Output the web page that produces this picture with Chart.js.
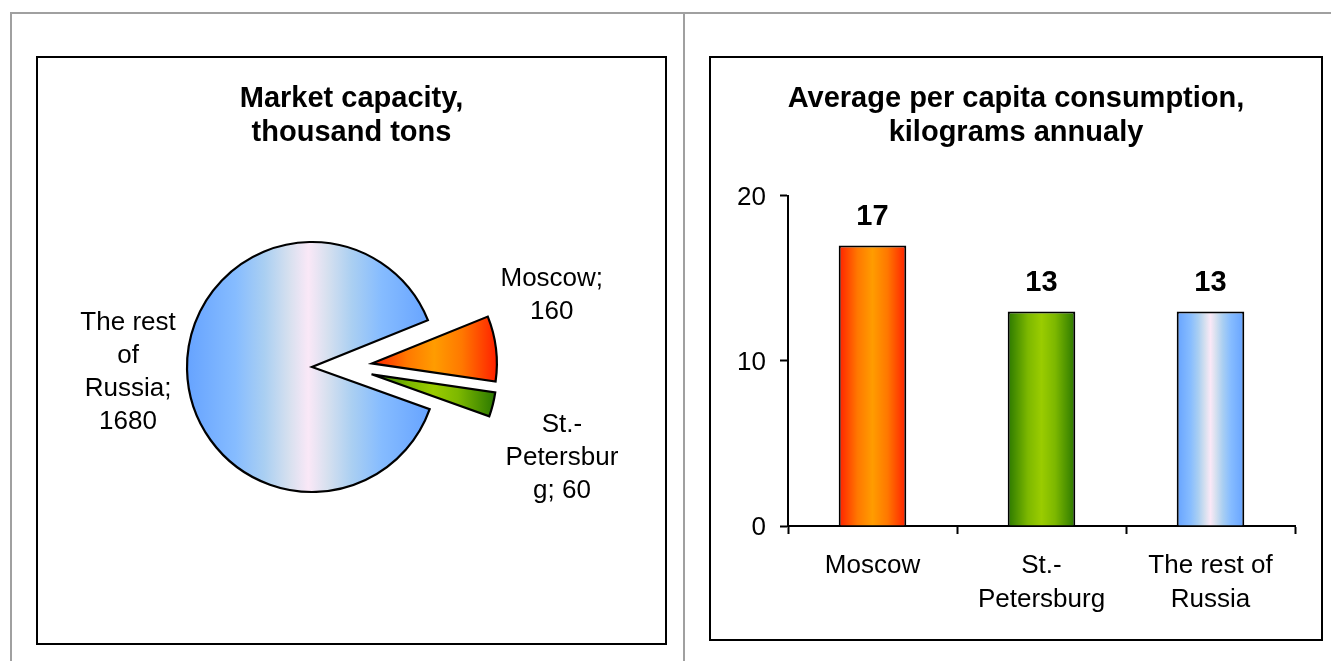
<!DOCTYPE html>
<html>
<head>
<meta charset="utf-8">
<script src="https://cdn.jsdelivr.net/npm/chart.js@4.4.0/dist/chart.umd.min.js"></script>
<style>
  body { margin: 0; background: #fff; width: 1331px; height: 661px; overflow: hidden; position: relative; }
  .rule { position: absolute; background: #a0a0a0; }
  .box { position: absolute; border: 2px solid #000; box-sizing: border-box; }
  .box canvas { display: block; }
</style>
</head>
<body>
<div class="rule" style="left:10px;top:12px;width:1321px;height:2px"></div>
<div class="rule" style="left:10px;top:12px;width:2px;height:649px"></div>
<div class="rule" style="left:683px;top:12px;width:2px;height:649px"></div>
<div class="box" style="left:36px;top:56px;width:631px;height:589px"><canvas id="pie" width="627" height="585" style="width:627px;height:585px"></canvas></div>
<div class="box" style="left:709px;top:56px;width:614px;height:585px"><canvas id="bar" width="610" height="581" style="width:610px;height:581px"></canvas></div>
<script>
// market capacity, thousand tons
const pieCategories = ['Moscow', 'St.-Petersburg', 'The rest of Russia'];
const pieValues = [160, 60, 1680];
// data labels as Excel wrapped them
const pieLabelLines = [['Moscow;', '160'], ['St.-', 'Petersbur', 'g; 60'], ['The rest', 'of', 'Russia;', '1680']];

// average per capita consumption, kg a year
const barCategories = [['Moscow'], ['St.-', 'Petersburg'], ['The rest of', 'Russia']];
const barValues = [17, 13, 13];
const barTicks = [0, 10, 20];

const FONT = '"Liberation Sans", Arial, sans-serif';
Chart.defaults.font.family = FONT;
Chart.defaults.color = '#000';

const red = [[0, '#ff2000'], [0.28, '#ff7800'], [0.5, '#ff9c00'], [0.72, '#ff7800'], [1, '#ff2000']];
const green = [[0, '#2a7800'], [0.3, '#7db800'], [0.5, '#9acc00'], [0.7, '#7db800'], [1, '#2a7800']];
const blue = [[0, '#66a3ff'], [0.2, '#86bcff'], [0.32, '#aacff2'], [0.42, '#d6e0ef'], [0.5, '#fae8f7'],
              [0.58, '#d6e0ef'], [0.68, '#aacff2'], [0.8, '#86bcff'], [1, '#66a3ff']];
const sliceStops = [red, green, blue];
const barStops = [red, green, blue];

const titleFont = { size: 29, weight: 'bold', lineHeight: 1.172 };

function grad(ctx, x0, x1, stops) {
  const g = ctx.createLinearGradient(x0, 0, x1, 0);
  stops.forEach(s => g.addColorStop(s[0], s[1]));
  return g;
}

// pie look
const pieRadius = 125;
const pieRotation = 68;
const pieShiftX = -39.5;
const explode = [60, 60, 0];
const explodeTilt = 0.5;   // Excel pulls slices out flatter than the mid angle
const labelTurn = [-14.4, 9.1, 0];
const labelDist = [193, 207, 184];

function sliceGeom(chart, i) {
  const ca = chart.chartArea;
  const total = pieValues.reduce((a, b) => a + b, 0);
  let start = (pieRotation - 90) * Math.PI / 180;
  for (let j = 0; j < i; j++) start += pieValues[j] / total * 2 * Math.PI;
  const end = start + pieValues[i] / total * 2 * Math.PI;
  const dir = (start + end) / 2 * explodeTilt;
  const cx = (ca.left + ca.right) / 2 + pieShiftX + explode[i] * Math.cos(dir);
  const cy = (ca.top + ca.bottom) / 2 + explode[i] * Math.sin(dir);
  return { cx, cy, start, end };
}

function sliceFill(c) {
  const chart = c.chart;
  if (c.dataIndex === undefined || !chart.chartArea) return sliceStops[2][0][1];
  const g = sliceGeom(chart, c.dataIndex);
  const xs = [g.cx, g.cx + pieRadius * Math.cos(g.start), g.cx + pieRadius * Math.cos(g.end)];
  for (let k = Math.ceil(g.start / Math.PI); k <= Math.floor(g.end / Math.PI); k++) {
    xs.push(g.cx + pieRadius * Math.cos(k * Math.PI));
  }
  return grad(chart.ctx, Math.min(...xs), Math.max(...xs), sliceStops[c.dataIndex]);
}

const pieMove = {
  id: 'pieMove',
  afterUpdate(chart) {
    chart.getDatasetMeta(0).data.forEach((arc, i) => {
      const g = sliceGeom(chart, i);
      arc.x = g.cx;
      arc.y = g.cy;
    });
  }
};

const pieLabels = {
  id: 'pieLabels',
  afterDatasetsDraw(chart) {
    const ctx = chart.ctx;
    ctx.save();
    ctx.font = '26px ' + FONT;
    ctx.fillStyle = '#000';
    ctx.textAlign = 'center';
    ctx.textBaseline = 'middle';
    chart.getDatasetMeta(0).data.forEach((arc, i) => {
      const a = (arc.startAngle + arc.endAngle) / 2 + labelTurn[i] * Math.PI / 180;
      const x = arc.x + Math.cos(a) * labelDist[i];
      const y = arc.y + Math.sin(a) * labelDist[i] + 2;
      const lines = pieLabelLines[i];
      lines.forEach((t, k) => ctx.fillText(t, x, y + (k - (lines.length - 1) / 2) * 33));
    });
    ctx.restore();
  }
};

new Chart(document.getElementById('pie'), {
  type: 'pie',
  data: {
    labels: pieCategories,
    datasets: [{
      data: pieValues,
      backgroundColor: sliceFill,
      borderColor: '#000',
      borderWidth: 2.2,
      borderJoinStyle: 'miter'
    }]
  },
  options: {
    responsive: false,
    animation: false,
    rotation: pieRotation,
    radius: pieRadius,
    layout: { padding: { bottom: 117 } },
    plugins: {
      legend: { display: false },
      tooltip: { enabled: false },
      title: {
        display: true,
        text: ['Market capacity,', 'thousand tons'],
        font: titleFont,
        padding: { top: 24, bottom: 58 }
      }
    }
  },
  plugins: [pieMove, pieLabels]
});

// bar chart
const barPct = 0.4;

function barFill(c) {
  const chart = c.chart;
  const x = chart.scales && chart.scales.x;
  if (c.dataIndex === undefined || !x || !chart.chartArea) return barStops[0][2][1];
  const cx = x.getPixelForValue(c.dataIndex);
  const w = x.width / barValues.length * barPct;
  return grad(chart.ctx, cx - w / 2, cx + w / 2, barStops[c.dataIndex]);
}

const barValueLabels = {
  id: 'barValueLabels',
  afterDatasetsDraw(chart) {
    const ctx = chart.ctx;
    ctx.save();
    ctx.font = 'bold 29px ' + FONT;
    ctx.fillStyle = '#000';
    ctx.textAlign = 'center';
    ctx.textBaseline = 'middle';
    chart.getDatasetMeta(0).data.forEach((bar, i) => {
      ctx.fillText(String(barValues[i]), bar.x, bar.y - 28);
    });
    ctx.restore();
  }
};

new Chart(document.getElementById('bar'), {
  type: 'bar',
  data: {
    labels: barCategories,
    datasets: [{
      data: barValues,
      backgroundColor: barFill,
      borderColor: '#000',
      borderWidth: 2,
      barPercentage: barPct,
      categoryPercentage: 1
    }]
  },
  options: {
    responsive: false,
    animation: false,
    plugins: {
      legend: { display: false },
      tooltip: { enabled: false },
      title: {
        display: true,
        text: ['Average per capita consumption,', 'kilograms annualy'],
        font: titleFont,
        padding: { top: 24, bottom: 46 }
      }
    },
    scales: {
      x: {
        grid: { drawOnChartArea: false, tickLength: 8, tickWidth: 2, tickColor: '#000', offset: true },
        border: { color: '#000', width: 2 },
        ticks: { color: '#000', font: { size: 26, lineHeight: 1.3 }, padding: 15, maxRotation: 0, autoSkip: false },
        afterFit(s) { s.height = 113; }
      },
      y: {
        min: barTicks[0],
        max: barTicks[barTicks.length - 1],
        afterBuildTicks(s) { s.ticks = barTicks.map(v => ({ value: v })); },
        grid: { drawOnChartArea: false, tickLength: 8, tickWidth: 2, tickColor: '#000' },
        border: { color: '#000', width: 2 },
        ticks: { color: '#000', font: { size: 26 }, padding: 14, labelOffset: 2 },
        afterFit(s) { s.width = 77; }
      },
      // empty right gutter so the plot ends where Excel's does while the title stays centred
      gutter: {
        type: 'linear',
        position: 'right',
        grid: { display: false },
        border: { display: false },
        ticks: { display: false },
        afterFit(s) { s.width = 26; }
      }
    }
  },
  plugins: [barValueLabels]
});
</script>
</body>
</html>
